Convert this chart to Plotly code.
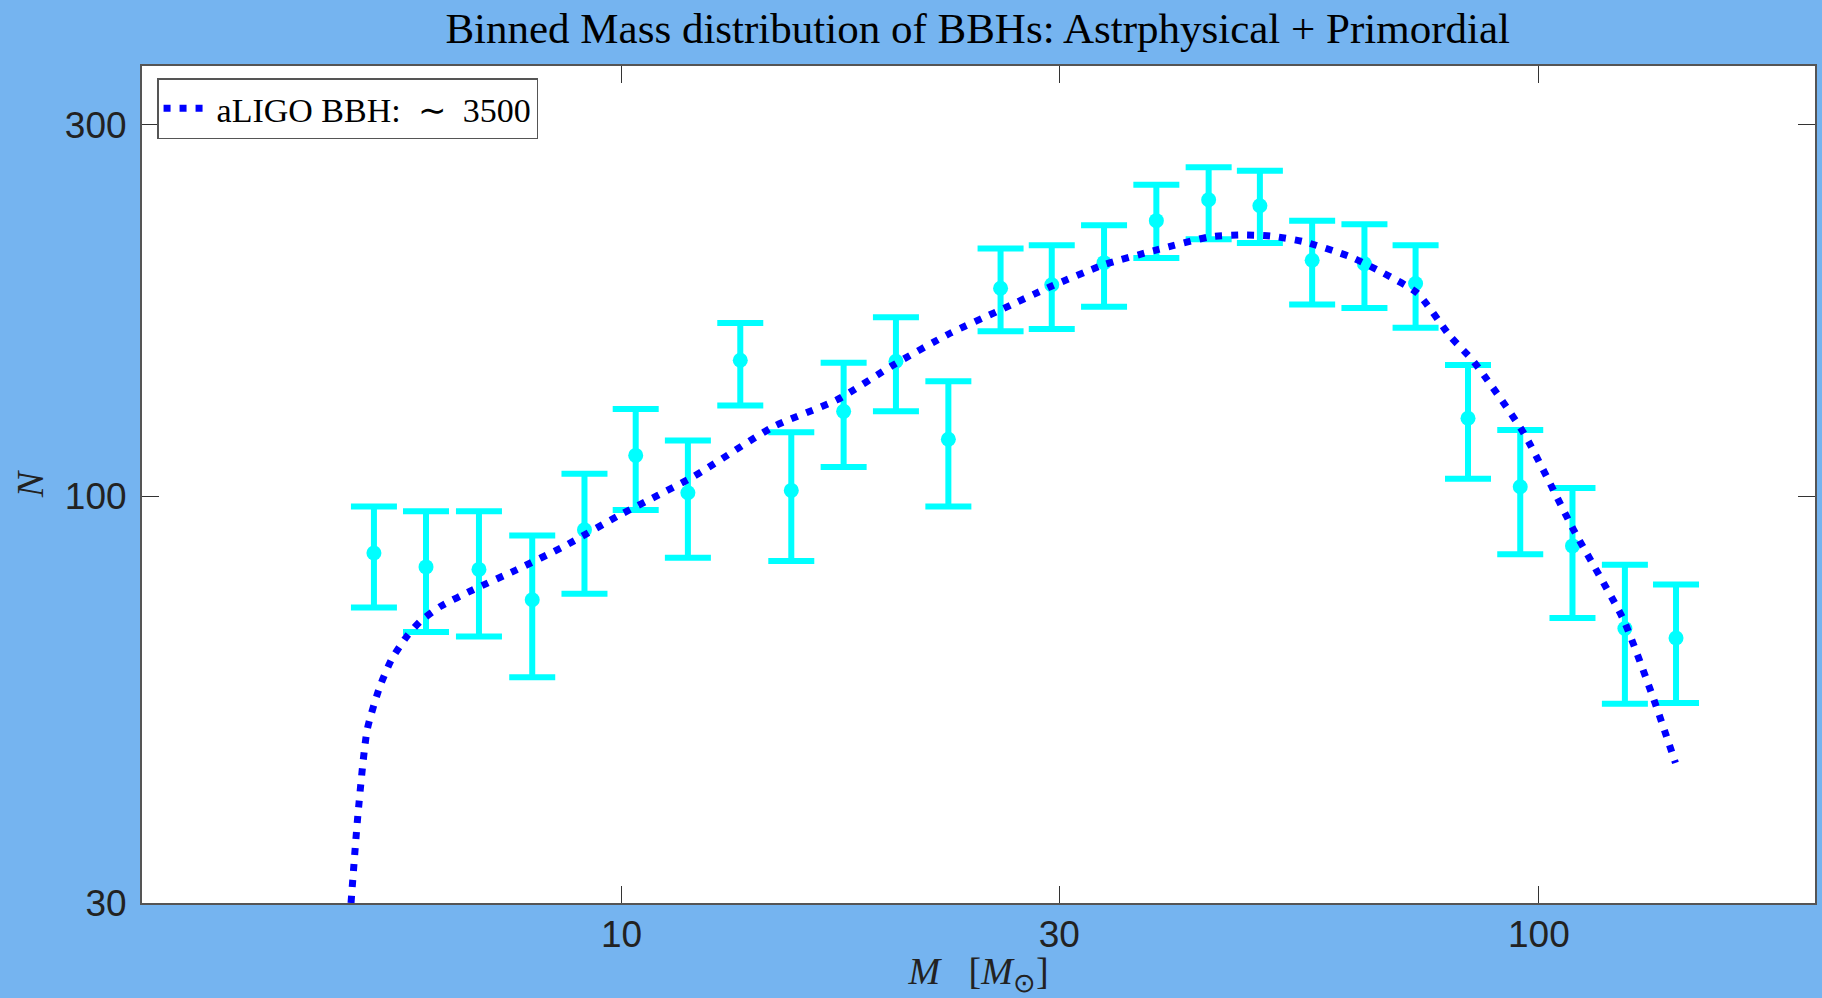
import plotly.graph_objects as go
import math

# ---- data ----
mass_bins = [5.37, 6.12, 6.99, 7.99, 9.11, 10.36, 11.81, 13.47, 15.31, 17.46, 19.91, 22.71, 25.89,
             29.44, 33.57, 38.28, 43.65, 49.64, 56.60, 64.54, 73.38, 83.70, 95.43, 108.8, 124.1, 141.1]
counts = [84.5, 81.1, 80.5, 73.6, 90.5, 112.8, 101.0, 149.5, 101.7, 128.5, 149.0, 118.3, 185.0,
          186.9, 199.5, 225.9, 240.3, 236.1, 200.9, 198.9, 187.6, 125.9, 102.8, 86.3, 67.6, 65.7]
err_up = [12.5, 14.5, 15.1, 15.4, 16.3, 16.6, 16.9, 17.4, 19.1, 19.9, 20.8, 22.2, 23.0,
          23.2, 23.3, 25.3, 24.2, 25.7, 25.0, 24.7, 22.5, 21.5, 18.8, 16.1, 14.0, 11.3]
err_down = [12.6, 14.2, 14.5, 15.1, 15.6, 16.8, 17.7, 18.8, 19.2, 19.5, 20.5, 21.3, 22.1,
            22.9, 24.4, 23.6, 26.5, 24.6, 24.6, 24.4, 23.0, 20.6, 18.6, 16.6, 13.5, 11.5]

curve_mass = [5.07, 5.16, 5.28, 5.45, 5.61, 5.83, 6.03, 6.34, 6.89, 7.68, 8.64, 9.96, 11.97, 14.64,
              17.16, 19.78, 22.81, 25.87, 29.33, 33.53, 38.33, 43.83, 47.25, 50.94, 55.4, 62.3,
              67.7, 73.7, 80.1, 84.9, 96.3, 109.1, 123.7, 133.5, 140.9]
curve_counts = [30.0, 39.1, 50.1, 56.9, 61.6, 66.0, 69.0, 72.1, 75.8, 80.4, 86.1, 94.6, 105.9, 122.8,
                132.9, 147.4, 161.9, 173.4, 185.8, 198.2, 207.2, 215.4, 216.5, 215.9, 212.3, 203.0,
                193.4, 182.3, 160.3, 148.9, 120.4, 90.5, 69.3, 54.7, 45.4]

x_ticks = [10, 30, 100]
y_ticks = [30, 100, 300]
x_range = [3, 200]
y_range = [30, 357]

title_text = "Binned Mass distribution of BBHs: Astrphysical + Primordial"
legend_text = "aLIGO BBH:\u00a0 \u223c\u00a0 3500"

BG = "#75B4F0"
SERIF = "Liberation Serif, Times New Roman, serif"
SANS = "Liberation Sans, Arial, Helvetica, sans-serif"

fig = go.Figure()

fig.add_trace(go.Scatter(
    x=mass_bins, y=counts, mode="markers",
    marker=dict(color="#00FFFF", size=15),
    error_y=dict(type="data", symmetric=False, array=err_up, arrayminus=err_down,
                 color="#00FFFF", thickness=6, width=23),
    showlegend=False,
))

fig.add_trace(go.Scatter(
    x=curve_mass, y=curve_counts, mode="lines",
    line=dict(color="#0000FF", width=7, dash="7px,9px", shape="spline", smoothing=0.6),
    name=legend_text, showlegend=True,
))

fig.update_layout(
    width=1822, height=998,
    margin=dict(l=142, r=7, t=66, b=95, pad=0, autoexpand=False),
    paper_bgcolor=BG, plot_bgcolor="white",
    title=dict(text=title_text, font=dict(family=SERIF, size=43, color="black"),
               x=0.5366, xanchor="center", yref="container", y=0.972, yanchor="middle",
               automargin=False),
    legend=dict(x=0.009, y=0.9855, xanchor="left", yanchor="top",
                bgcolor="white", bordercolor="#555555", borderwidth=1.5,
                itemwidth=48,
                font=dict(family=SERIF, size=34, color="black")),
    showlegend=True,
)

fig.update_xaxes(
    type="log", range=[math.log10(x_range[0]), math.log10(x_range[1])],
    tickvals=x_ticks, ticktext=[str(v) for v in x_ticks],
    ticks="inside", ticklen=17, tickwidth=1, tickcolor="#333333",
    showline=True, linecolor="#555555", linewidth=2, mirror="allticks",
    showgrid=False, zeroline=False, automargin=False,
    tickfont=dict(family=SANS, size=37, color="#222222"),
    ticklabelstandoff=-2,
    title=dict(text="<i>M</i>\u00a0\u00a0 [<i>M</i><sub>\u2299</sub>]",
               font=dict(family=SERIF, size=38, color="#222222"), standoff=9),
)
fig.update_yaxes(
    type="log", range=[math.log10(y_range[0]), math.log10(y_range[1])],
    tickvals=y_ticks, ticktext=[str(v) for v in y_ticks],
    ticks="inside", ticklen=17, tickwidth=1, tickcolor="#333333",
    showline=True, linecolor="#555555", linewidth=2, mirror="allticks",
    showgrid=False, zeroline=False, automargin=False,
    tickfont=dict(family=SANS, size=37, color="#222222"),
    ticklabelstandoff=6,
    title=dict(text="<i>N</i>", font=dict(family=SERIF, size=38, color="#222222"), standoff=10),
)

fig.write_html("out.html", config={"displayModeBar": False},
               post_script="document.body.style.margin='0';document.body.style.overflow='hidden';")
